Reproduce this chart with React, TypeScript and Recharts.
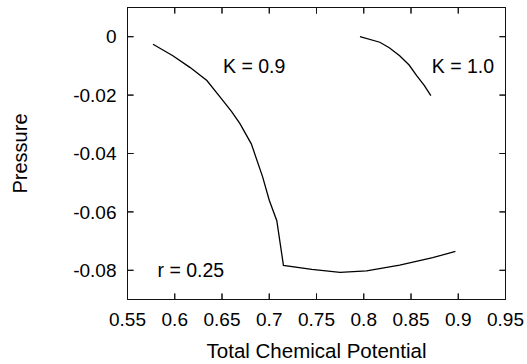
import React from 'react';
import { LineChart, Line, XAxis, YAxis, ReferenceDot, ReferenceLine } from 'recharts';

const k09X = [0.577, 0.598, 0.616, 0.634, 0.651, 0.660, 0.669, 0.681, 0.693, 0.700, 0.708, 0.715, 0.745, 0.775, 0.803, 0.838, 0.873, 0.897];
const k09Y = [-0.0026, -0.0065, -0.0105, -0.015, -0.0219, -0.0256, -0.0298, -0.0367, -0.048, -0.056, -0.063, -0.0783, -0.0797, -0.0807, -0.0802, -0.0782, -0.0757, -0.0735];

const k10X = [0.796, 0.817, 0.827, 0.838, 0.848, 0.856, 0.864, 0.871];
const k10Y = [0.0, -0.0019, -0.0038, -0.0065, -0.0097, -0.0133, -0.0167, -0.0202];

const xTicks = [0.55, 0.6, 0.65, 0.7, 0.75, 0.8, 0.85, 0.9, 0.95];
const yTicks = [-0.08, -0.06, -0.04, -0.02, 0];
const xDomain = [0.55, 0.95];
const yDomain = [-0.09, 0.01];

const annotations = [
  { x: 0.684, y: -0.01, text: 'K = 0.9' },
  { x: 0.905, y: -0.01, text: 'K = 1.0' },
  { x: 0.617, y: -0.08, text: 'r = 0.25' },
];

const k09 = k09X.map((x, i) => ({ x, y: k09Y[i] }));
const k10 = k10X.map((x, i) => ({ x, y: k10Y[i] }));

const fmt = (v: number) => String(Number(v.toFixed(4)));
const W = 527;
const H = 364;
const M_TOP = 7.5;
const M_RIGHT = 21.5;
const M_BOTTOM = 64.5;
const M_LEFT = 127.5;
const PLOT_W = W - M_LEFT - M_RIGHT;
const PLOT_H = H - M_TOP - M_BOTTOM;
const PLOT_BOTTOM = H - M_BOTTOM;
const TICK_PX = 6;
const TICK_DX = (TICK_PX / PLOT_W) * (xDomain[1] - xDomain[0]);
const TICK_DY = (TICK_PX / PLOT_H) * (yDomain[1] - yDomain[0]);
const TICK_FONT = 19;
const INK = '#111';

const BottomLabel = (p: any) => (
  <text x={Number(p.x)} y={PLOT_BOTTOM + 13} dy="0.71em" textAnchor="middle" fill="#000" fontSize={TICK_FONT}>
    {fmt(p.payload.value)}
  </text>
);
const LeftLabel = (p: any) => (
  <text x={M_LEFT - 11} y={Number(p.y)} dy="0.355em" textAnchor="end" fill="#000" fontSize={TICK_FONT}>
    {fmt(p.payload.value)}
  </text>
);

export default function App() {
  return (
    <div style={{ position: 'absolute', left: 0, top: 0, width: W, height: H, fontFamily: '"Liberation Sans", Arial, sans-serif' }}>
      <LineChart width={W} height={H} margin={{ top: M_TOP, right: M_RIGHT, bottom: M_BOTTOM, left: M_LEFT }}>
        <XAxis
          xAxisId="b"
          orientation="bottom"
          mirror
          type="number"
          dataKey="x"
          domain={xDomain}
          ticks={xTicks}
          interval={0}
          height={30}
          tickSize={6}
          tickMargin={0}
          stroke={INK}
          tickLine={{ stroke: INK }}
          tick={BottomLabel}
          label={{ value: 'Total Chemical Potential', position: 'bottom', offset: 43.5, fill: '#000', fontSize: 20.5 }}
        />
        <XAxis
          xAxisId="t"
          orientation="top"
          mirror
          type="number"
          dataKey="x"
          domain={xDomain}
          ticks={xTicks}
          interval={0}
          height={30}
          tickSize={6}
          stroke={INK}
          tickLine={{ stroke: INK }}
          tickFormatter={() => ''}
        />
        <YAxis
          yAxisId="l"
          orientation="left"
          mirror
          type="number"
          domain={yDomain}
          ticks={yTicks}
          interval={0}
          width={60}
          tickSize={6}
          tickMargin={0}
          stroke={INK}
          tickLine={{ stroke: INK }}
          tick={LeftLabel}
          label={{ value: 'Pressure', angle: -90, position: 'left', offset: 107.5, fill: '#000', fontSize: 20, style: { textAnchor: 'middle' } }}
        />
        <YAxis
          yAxisId="r"
          orientation="right"
          mirror
          type="number"
          domain={yDomain}
          ticks={yTicks}
          interval={0}
          width={60}
          tickSize={6}
          stroke={INK}
          tickLine={{ stroke: INK }}
          tickFormatter={() => ''}
        />
        <ReferenceLine xAxisId="b" yAxisId="l" segment={[{ x: xDomain[0], y: yDomain[1] }, { x: xDomain[1], y: yDomain[1] }]} stroke={INK} strokeWidth={1} ifOverflow="visible" />
        <ReferenceLine xAxisId="b" yAxisId="l" segment={[{ x: xDomain[1], y: yDomain[0] }, { x: xDomain[1], y: yDomain[1] }]} stroke={INK} strokeWidth={1} ifOverflow="visible" />
        {xTicks.map((v) => (
          <ReferenceLine key={`xb${v}`} xAxisId="b" yAxisId="l" segment={[{ x: v, y: yDomain[0] }, { x: v, y: yDomain[0] + TICK_DY }]} stroke={INK} strokeWidth={1} ifOverflow="visible" />
        ))}
        {xTicks.map((v) => (
          <ReferenceLine key={`xt${v}`} xAxisId="b" yAxisId="l" segment={[{ x: v, y: yDomain[1] }, { x: v, y: yDomain[1] - TICK_DY }]} stroke={INK} strokeWidth={1} ifOverflow="visible" />
        ))}
        {yTicks.map((v) => (
          <ReferenceLine key={`yl${v}`} xAxisId="b" yAxisId="l" segment={[{ x: xDomain[0], y: v }, { x: xDomain[0] + TICK_DX, y: v }]} stroke={INK} strokeWidth={1} ifOverflow="visible" />
        ))}
        {yTicks.map((v) => (
          <ReferenceLine key={`yr${v}`} xAxisId="b" yAxisId="l" segment={[{ x: xDomain[1], y: v }, { x: xDomain[1] - TICK_DX, y: v }]} stroke={INK} strokeWidth={1} ifOverflow="visible" />
        ))}
        <Line data={k09} xAxisId="b" yAxisId="l" dataKey="y" type="linear" stroke="#000" strokeWidth={1.3} dot={false} isAnimationActive={false} />
        <Line data={k10} xAxisId="t" yAxisId="r" dataKey="y" type="linear" stroke="#000" strokeWidth={1.3} dot={false} isAnimationActive={false} />
        {annotations.map((a) => (
          <ReferenceDot
            key={a.text}
            xAxisId="b"
            yAxisId="l"
            x={a.x}
            y={a.y}
            r={0}
            label={{ value: a.text, position: 'center', fill: '#000', fontSize: 19.5 }}
          />
        ))}
      </LineChart>
    </div>
  );
}
